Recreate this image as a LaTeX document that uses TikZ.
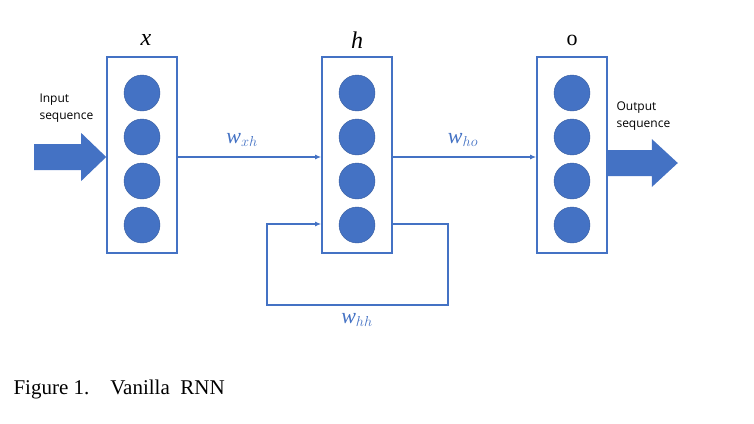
\documentclass[tikz,border=0pt]{standalone}
\usepackage{fontspec}
\setmainfont{Liberation Serif}
\newfontfamily\labelfont{Open Sans}
\usetikzlibrary{arrows.meta}
\definecolor{rnnblue}{HTML}{4472C4}
\begin{document}
\begin{tikzpicture}[x=1pt,y=-1pt]
		\tikzset{layer/.style={draw=rnnblue, line width=1.6pt, minimum width=70pt, minimum height=196pt, inner sep=0pt}};
		\tikzset{unit/.style={circle, fill=rnnblue, draw=rnnblue!80!black, minimum size=36pt, inner sep=0pt}};
		\tikzset{link/.style={draw=rnnblue, line width=1.3pt, -{Latex[length=6pt,width=5pt]}}};
		\tikzset{weight/.style={text=rnnblue, font=\fontsize{22}{24}\selectfont\itshape}};
		\useasboundingbox (0,0) rectangle (754,423);
		\node[layer] (X) at (142,155) {};
		\node[layer] (H) at (357,155) {};
		\node[layer] (O) at (572,155) {};
		\foreach \l in {X,H,O}
			\foreach \i/\y in {1/93,2/137,3/181,4/225}
				\path (\l.center) ++(0,\y-155) node[unit] (\l\i) {};
		\node[font=\fontsize{24}{26}\selectfont\itshape] (Xlab) at (146,40) {x};
		\node[font=\fontsize{24}{26}\selectfont\itshape] (Hlab) at (357,40) {h};
		\node[font=\fontsize{22}{24}\selectfont] (Olab) at (572,40) {o};
		% big input and output arrows
		\coordinate (InTip) at (X.west |- 0,157);
		\coordinate (OutTail) at (O.east |- 0,163);
		\fill[rnnblue] (InTip) -- ++(-25,-24) -- ++(0,11) -- ++(-47,0) -- ++(0,26) -- ++(47,0) -- ++(0,11) -- cycle;
		\fill[rnnblue] (OutTail) ++(0,-13) -- ++(44,0) -- ++(0,-11) -- ++(26,24) -- ++(-26,24) -- ++(0,-11) -- ++(-44,0) -- cycle;
		\node[font=\labelfont\fontsize{12}{17}\selectfont, align=left, anchor=west] (InLab) at (36,108) {Input\\sequence};
		\node[font=\labelfont\fontsize{12}{17}\selectfont, align=left, anchor=west] (OutLab) at (613,116) {Output\\sequence};
		\coordinate (LoopA) at (448,224);
		\coordinate (LoopB) at (448,305);
		\coordinate (LoopC) at (267,305);
		\coordinate (LoopD) at (267,224);
		\draw[link] (X.east |- 0,157) -- (H.west |- 0,157);
		\draw[link] (H.east |- 0,157) -- (O.west |- 0,157);
		\draw[link] (H.east |- LoopA) -- (LoopA) -- (LoopB) -- (LoopC) -- (LoopD) -- (H.west |- LoopD);
		\node[weight] (Wxh) at (242,140) {w$_{xh}$};
		\node[weight] (Who) at (463,140) {w$_{ho}$};
		\node[weight] (Whh) at (357,320) {w$_{hh}$};
		\node[anchor=west, font=\fontsize{21}{23}\selectfont] (Cap) at (10,389) {Figure 1.\quad Vanilla\ \ RNN};
	\end{tikzpicture}
\end{document}
